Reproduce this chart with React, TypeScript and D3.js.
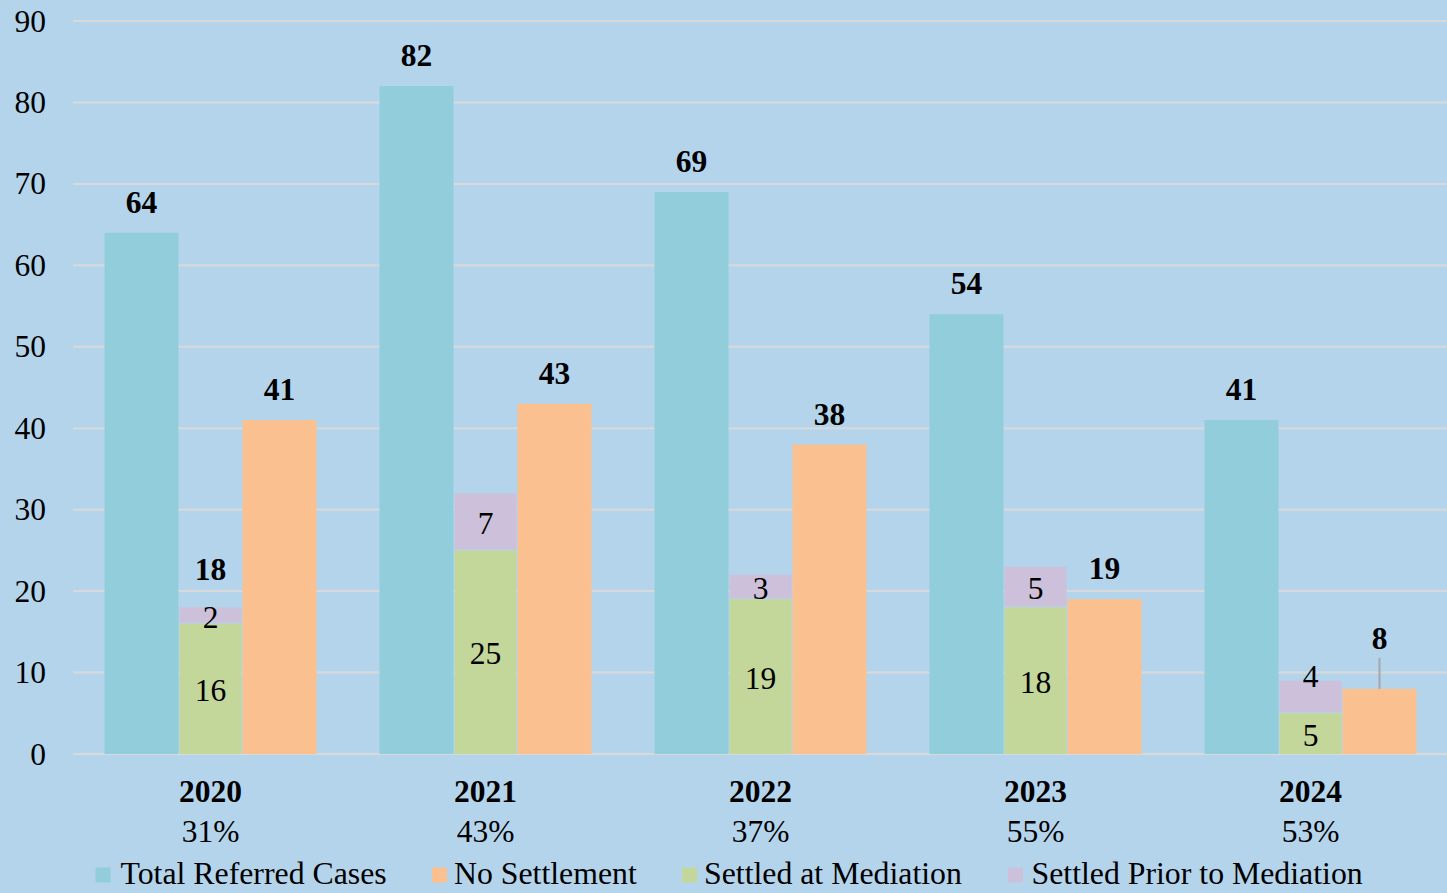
import React from "react";
import * as d3 from "d3";

const years = ["2020", "2021", "2022", "2023", "2024"];
const percentLabels = ["31%", "43%", "37%", "55%", "53%"];
const totalReferred = [64, 82, 69, 54, 41];
const noSettlement = [41, 43, 38, 19, 8];
const settledAtMediation = [16, 25, 19, 18, 5];
const settledPriorToMediation = [2, 7, 3, 5, 4];
const showStackTotal = [true, false, false, false, false];
const yTicks = [0, 10, 20, 30, 40, 50, 60, 70, 80, 90];
const legendLabels = ["Total Referred Cases", "No Settlement", "Settled at Mediation", "Settled Prior to Mediation"];

const W = 1447;
const H = 893;
const FONT = "'Liberation Serif', 'Times New Roman', serif";
const C_TOTAL = "#92CDDC";
const C_NO = "#FAC090";
const C_AT = "#C4D79B";
const C_PRIOR = "#CCC0DA";
const BG = "#B4D4EC";
const GRID = "#D9D9D9";

export default function App() {
  const x = d3.scaleBand<string>().domain(years).range([73, 1448]).paddingInner(0).paddingOuter(0);
  const y = d3.scaleLinear().domain([0, 90]).range([754, 21]);
  const fs = 31.5;
  const legendFs = 31.8;
  const sideW = 74;
  const midW = 62;

  const legendColors = [C_TOTAL, C_NO, C_AT, C_PRIOR];
  const legendSwatchX = [95.5, 432, 682, 1008];
  const legendTextX = [120.5, 454, 704, 1031.5];

  return (
    <svg
      width={W}
      height={H}
      style={{ position: "absolute", left: 0, top: 0, display: "block", fontFamily: FONT }}
    >
      <rect x={0} y={0} width={W} height={H} fill={BG} />
      {yTicks.map((t) => (
        <g key={t}>
          <line x1={73} x2={W} y1={y(t)} y2={y(t)} stroke={GRID} strokeWidth={2} />
          <text x={46} y={y(t) + 10.5} textAnchor="end" fontSize={fs} fill="#000" style={{ fontFamily: FONT }}>
            {t}
          </text>
        </g>
      ))}
      {years.map((yr, i) => {
        const c = (x(yr) as number) + x.bandwidth() / 2;
        const tx = c - midW / 2 - 1 - sideW;
        const sx = c - midW / 2;
        const nx = c + midW / 2 + 1;
        const at = settledAtMediation[i];
        const pr = settledPriorToMediation[i];
        const stackTop = at + pr;
        const no = noSettlement[i];
        const tot = totalReferred[i];
        const isLast = i === years.length - 1;
        return (
          <g key={yr} style={{ fontFamily: FONT }}>
            <rect x={tx} y={y(tot)} width={sideW} height={y(0) - y(tot)} fill={C_TOTAL} />
            <text x={tx + sideW / 2} y={y(tot) - 20} textAnchor="middle" fontSize={fs} fontWeight="bold">
              {tot}
            </text>
            <rect x={sx} y={y(at)} width={midW} height={y(0) - y(at)} fill={C_AT} />
            <rect x={sx} y={y(stackTop)} width={midW} height={y(at) - y(stackTop) - 1} fill={C_PRIOR} />
            <text x={c} y={(y(0) + y(at)) / 2 + 12} textAnchor="middle" fontSize={fs}>
              {at}
            </text>
            <text
              x={c}
              y={isLast ? y(stackTop) + 6 : (y(at) + y(stackTop)) / 2 + 12}
              textAnchor="middle"
              fontSize={fs}
            >
              {pr}
            </text>
            {showStackTotal[i] && (
              <text x={c} y={y(stackTop) - 27} textAnchor="middle" fontSize={fs} fontWeight="bold">
                {stackTop}
              </text>
            )}
            <rect x={nx} y={y(no)} width={sideW} height={y(0) - y(no)} fill={C_NO} />
            {isLast ? (
              <>
                <line
                  x1={nx + sideW / 2}
                  x2={nx + sideW / 2}
                  y1={y(no)}
                  y2={y(no) - 31}
                  stroke="#A6A6A6"
                  strokeWidth={2}
                />
                <text x={nx + sideW / 2} y={y(no) - 40} textAnchor="middle" fontSize={fs} fontWeight="bold">
                  {no}
                </text>
              </>
            ) : (
              <text x={nx + sideW / 2} y={y(no) - 20} textAnchor="middle" fontSize={fs} fontWeight="bold">
                {no}
              </text>
            )}
            <text x={c} y={802} textAnchor="middle" fontSize={fs} fontWeight="bold">
              {yr}
            </text>
            <text x={c} y={842} textAnchor="middle" fontSize={fs}>
              {percentLabels[i]}
            </text>
          </g>
        );
      })}
      {legendLabels.map((l, i) => (
        <g key={l} style={{ fontFamily: FONT }}>
          <rect x={legendSwatchX[i]} y={867.5} width={15} height={15} fill={legendColors[i]} />
          <text x={legendTextX[i]} y={884} fontSize={legendFs}>
            {l}
          </text>
        </g>
      ))}
    </svg>
  );
}
